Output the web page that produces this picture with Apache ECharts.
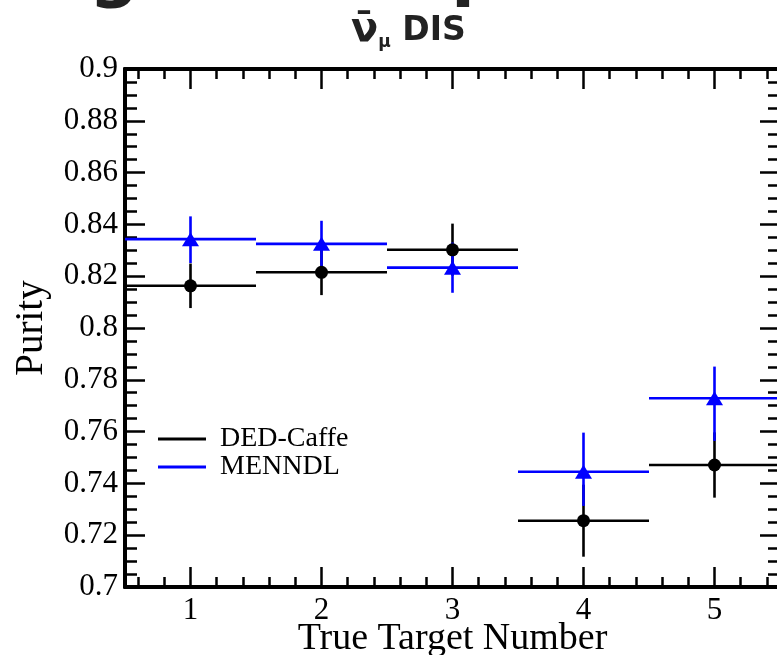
<!DOCTYPE html>
<html>
<head>
<meta charset="utf-8">
<title>Purity vs true target number</title>
<script src="https://cdn.jsdelivr.net/npm/echarts@6/dist/echarts.min.js"></script>
<style>
  html, body { margin: 0; padding: 0; background: #ffffff; }
  #chart { width: 777px; height: 655px; }
</style>
</head>
<body>
<div id="chart"></div>
<script>
// True target number bins (bin centres) and half bin width
const targets = [1, 2, 3, 4, 5];
const binHalfWidth = [0.5, 0.5, 0.5, 0.5, 0.5];

// DED-Caffe purity with lower / upper uncertainties
const dedPurity = [0.8163, 0.8215, 0.8302, 0.7256, 0.7471];
const dedErrLow = [0.0086, 0.0088, 0.0100, 0.0139, 0.0126];
const dedErrHigh = [0.0086, 0.0088, 0.0101, 0.0139, 0.0126];

// MENNDL purity with lower / upper uncertainties
const menndlPurity = [0.8343, 0.8325, 0.8233, 0.7445, 0.7729];
const menndlErrLow = [0.0092, 0.0087, 0.0097, 0.0132, 0.0165];
const menndlErrHigh = [0.0088, 0.0089, 0.0097, 0.0151, 0.0122];

// Axis ticks
const xMajorTicks = [1, 2, 3, 4, 5];
const yTicksStep = 0.02;

const SERIF = '"Liberation Serif", "Times New Roman", serif';

// minor ticks on the x axis every 0.2 between the bin edges
const xMinorTicks = [];
for (let i = 6; i <= 54; i += 2) {
  const v = i / 10;
  if (Math.abs(v - Math.round(v)) > 1e-6) xMinorTicks.push(v);
}

function errorRows(vals, lo, hi) {
  return targets.map((t, i) => [t, vals[i], binHalfWidth[i], lo[i], hi[i]]);
}

function renderErrorBar(params, api) {
  const x = api.value(0), y = api.value(1), hw = api.value(2);
  const lo = api.value(3), hi = api.value(4);
  const a = api.coord([x - hw, y]);
  const b = api.coord([x + hw, y]);
  const c = api.coord([x, y - lo]);
  const d = api.coord([x, y + hi]);
  const style = { stroke: api.visual('color'), lineWidth: 2.6 };
  return {
    type: 'group',
    children: [
      { type: 'line', shape: { x1: a[0], y1: a[1], x2: b[0], y2: b[1] }, style },
      { type: 'line', shape: { x1: c[0], y1: c[1], x2: d[0], y2: d[1] }, style }
    ]
  };
}

const frameLine = { show: true, onZero: false, lineStyle: { color: '#000', width: 4 } };

function xAxisOf(position, ticks, len, withLabels) {
  return {
    type: 'value', position, min: 0.5, max: 5.5,
    axisLine: frameLine,
    splitLine: { show: false },
    axisTick: { show: true, inside: true, length: len, customValues: ticks,
                lineStyle: { color: '#000', width: 2.5 } },
    axisLabel: withLabels
      ? { show: true, customValues: ticks, color: '#000', fontFamily: SERIF, fontSize: 31, margin: 8 }
      : { show: false }
  };
}

function yAxisOf(position, withLabels) {
  return {
    type: 'value', position, min: 0.7, max: 0.9, interval: yTicksStep,
    axisLine: frameLine,
    splitLine: { show: false },
    axisTick: { show: true, inside: true, length: 20, lineStyle: { color: '#000', width: 2.5 } },
    minorTick: { show: true, splitNumber: 4, length: 12, lineStyle: { color: '#000', width: 2.5 } },
    axisLabel: withLabels
      ? { show: true, color: '#000', fontFamily: SERIF, fontSize: 31, margin: 7,
          formatter: v => String(+v.toFixed(2)) }
      : { show: false }
  };
}

const bottomMajor = xAxisOf('bottom', xMajorTicks, 20, true);
bottomMajor.name = 'True Target Number';
bottomMajor.nameLocation = 'middle';
bottomMajor.nameGap = 33;
bottomMajor.nameMoveOverlap = false;
bottomMajor.nameTextStyle = { color: '#000', fontFamily: SERIF, fontSize: 38, verticalAlign: 'top' };

const leftAxis = yAxisOf('left', true);
leftAxis.name = 'Purity';
leftAxis.nameLocation = 'middle';
leftAxis.nameGap = 74;
leftAxis.nameMoveOverlap = false;
leftAxis.nameRotate = 90;
leftAxis.nameTextStyle = { color: '#000', fontFamily: SERIF, fontSize: 39 };

const chart = echarts.init(document.getElementById('chart'), null, { renderer: 'canvas' });

chart.setOption({
  backgroundColor: '#ffffff',
  animation: false,
  title: {
    text: '{nu|ν̄}{sub|μ}{dis| DIS}',
    left: 346, top: 6,
    textStyle: {
      rich: {
        nu: { fontFamily: 'DejaVu Sans', fontWeight: 'bold', fontSize: 40, color: '#222' },
        sub: { fontFamily: 'DejaVu Sans', fontWeight: 'bold', fontSize: 17, color: '#222',
               verticalAlign: 'bottom', padding: [14, 0, 0, 0] },
        dis: { fontFamily: 'DejaVu Sans', fontWeight: 'bold', fontSize: 33, color: '#222' }
      }
    }
  },
  graphic: [
    { type: 'text', x: 114, y: -24, silent: true,
      style: { text: 'g', fontFamily: 'DejaVu Sans', fontWeight: 'bold', fontSize: 70,
               fill: '#222', textAlign: 'center', textVerticalAlign: 'middle' } },
    { type: 'text', x: 451, y: -25, silent: true,
      style: { text: 'p', fontFamily: 'DejaVu Sans', fontWeight: 'bold', fontSize: 70,
               fill: '#222', textAlign: 'left', textVerticalAlign: 'middle' } }
  ],
  legend: {
    orient: 'vertical', left: 158, top: 425,
    itemWidth: 48, itemHeight: 3, itemGap: 0, padding: 0,
    textStyle: { color: '#000', fontFamily: SERIF, fontSize: 28, lineHeight: 26, padding: [0, 0, 0, 9] },
    data: [
      { name: 'DED-Caffe', icon: 'rect' },
      { name: 'MENNDL', icon: 'rect' }
    ]
  },
  grid: { left: 125, right: -3, top: 69, bottom: 68, containLabel: false, outerBoundsMode: 'none' },
  xAxis: [
    bottomMajor,
    xAxisOf('bottom', xMinorTicks, 10, false),
    xAxisOf('top', xMajorTicks, 20, false),
    xAxisOf('top', xMinorTicks, 10, false)
  ],
  yAxis: [leftAxis, yAxisOf('right', false)],
  series: [
    {
      name: 'DED-Caffe', type: 'custom', renderItem: renderErrorBar,
      itemStyle: { color: '#000000' },
      encode: { x: 0, y: 1 }, data: errorRows(dedPurity, dedErrLow, dedErrHigh), z: 2
    },
    {
      name: 'MENNDL', type: 'custom', renderItem: renderErrorBar,
      itemStyle: { color: '#0000ff' },
      encode: { x: 0, y: 1 }, data: errorRows(menndlPurity, menndlErrLow, menndlErrHigh), z: 3
    },
    {
      name: 'DED-Caffe markers', type: 'scatter', symbol: 'circle', symbolSize: 13,
      itemStyle: { color: '#000000', opacity: 1 },
      data: targets.map((t, i) => [t, dedPurity[i]]), z: 4
    },
    {
      name: 'MENNDL markers', type: 'scatter', symbol: 'triangle', symbolSize: [17, 14],
      itemStyle: { color: '#0000ff', opacity: 1 },
      data: targets.map((t, i) => [t, menndlPurity[i]]), z: 5
    }
  ]
});
</script>
</body>
</html>
